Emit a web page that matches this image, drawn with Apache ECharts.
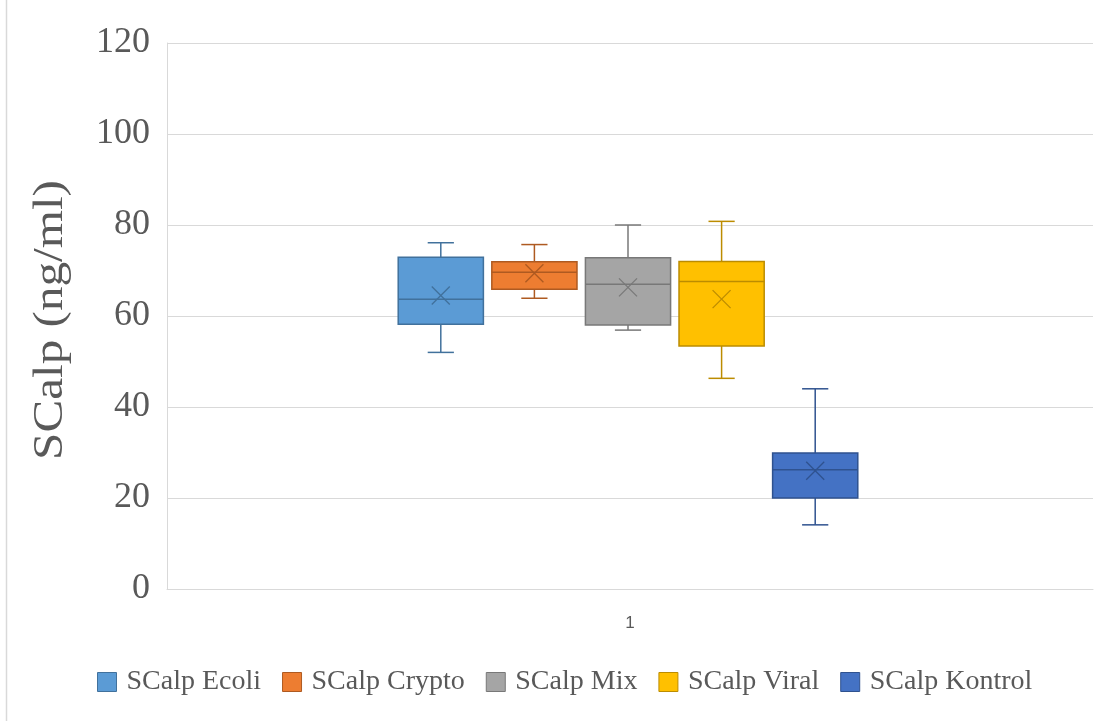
<!DOCTYPE html>
<html>
<head>
<meta charset="utf-8">
<script src="https://cdn.jsdelivr.net/npm/echarts@6/dist/echarts.min.js"></script>
<style>
  html, body { margin: 0; padding: 0; background: #ffffff; }
  #chart { width: 1096px; height: 721px; }
</style>
</head>
<body>
<div id="chart"></div>
<script>
// Group names shown in the legend
const seriesNames = ['SCalp Ecoli', 'SCalp Crypto', 'SCalp Mix', 'SCalp Viral', 'SCalp Kontrol'];
// Single category on the shared x axis
const categories = ['1'];
// Box statistics per group: [min, Q1, median, Q3, max]
const boxStats = [
  [52.0, 58.2, 63.7, 72.9, 76.1],
  [63.9, 65.9, 69.6, 71.9, 75.7],
  [56.9, 58.0, 67.0, 72.8, 80.0],
  [46.3, 53.4, 67.6, 72.0, 80.8],
  [14.1, 20.0, 26.2, 29.9, 44.0]
];
// Mean per group (drawn as an X marker)
const means = [64.5, 69.4, 66.3, 63.7, 26.0];
// Y axis scale and title
const yTicks = { min: 0, max: 120, interval: 20 };
const yTitle = 'SCalp (ng/ml)';

const fills   = ['#5B9BD5', '#ED7D31', '#A5A5A5', '#FFC000', '#4472C4'];
const strokes = ['#41719C', '#AE5A21', '#787878', '#BC8C00', '#2F528F'];
const textColor = '#595959';
const gridColor = '#d9d9d9';
const serif = '"Liberation Serif", "Times New Roman", serif';

function renderBox(params, api) {
  const idx = params.seriesIndex;
  const cat = api.value(0);
  const band = api.size([1, 0])[0];
  const boxW = band * 0.91;
  const capW = band * 0.28;
  const pMin = api.coord([cat, api.value(1)]);
  const pQ1  = api.coord([cat, api.value(2)]);
  const pMed = api.coord([cat, api.value(3)]);
  const pQ3  = api.coord([cat, api.value(4)]);
  const pMax = api.coord([cat, api.value(5)]);
  const pMean = api.coord([cat, api.value(6)]);
  const cx = pMed[0];
  const lineStyle = { stroke: strokes[idx], lineWidth: 1.5 };
  const xs = 9;
  return {
    type: 'group',
    children: [
      { type: 'line', shape: { x1: cx, y1: pMax[1], x2: cx, y2: pQ3[1] }, style: lineStyle },
      { type: 'line', shape: { x1: cx, y1: pQ1[1], x2: cx, y2: pMin[1] }, style: lineStyle },
      { type: 'line', shape: { x1: cx - capW / 2, y1: pMax[1], x2: cx + capW / 2, y2: pMax[1] }, style: lineStyle },
      { type: 'line', shape: { x1: cx - capW / 2, y1: pMin[1], x2: cx + capW / 2, y2: pMin[1] }, style: lineStyle },
      { type: 'rect', shape: { x: cx - boxW / 2, y: pQ3[1], width: boxW, height: pQ1[1] - pQ3[1] },
        style: { fill: fills[idx], stroke: strokes[idx], lineWidth: 1.5 } },
      { type: 'line', shape: { x1: cx - boxW / 2, y1: pMed[1], x2: cx + boxW / 2, y2: pMed[1] }, style: lineStyle },
      { type: 'line', shape: { x1: cx - xs, y1: pMean[1] - xs, x2: cx + xs, y2: pMean[1] + xs },
        style: { stroke: strokes[idx], lineWidth: 1.3 } },
      { type: 'line', shape: { x1: cx - xs, y1: pMean[1] + xs, x2: cx + xs, y2: pMean[1] - xs },
        style: { stroke: strokes[idx], lineWidth: 1.3 } }
    ]
  };
}

const chart = echarts.init(document.getElementById('chart'), null, { renderer: 'canvas' });

chart.setOption({
  backgroundColor: '#ffffff',
  animation: false,
  graphic: [
    {
      // thin frame line on the left edge
      type: 'line', silent: true,
      shape: { x1: 6.5, y1: 0, x2: 6.5, y2: 721 },
      style: { stroke: gridColor, lineWidth: 1.5 }
    },
    {
      // y axis title, set in a tall serif face
      type: 'text', silent: true,
      x: 51, y: 320, rotation: Math.PI / 2, scaleX: 1.17,
      style: {
        text: yTitle, fill: textColor,
        font: '42px ' + serif,
        textAlign: 'center', textVerticalAlign: 'middle'
      }
    }
  ],
  grid: [
    { left: 167, right: 3, top: 43, bottom: 132, outerBoundsMode: 'none', containLabel: false },
    { left: 394, width: 468, top: 43, bottom: 132, outerBoundsMode: 'none', containLabel: false }
  ],
  xAxis: [
    {
      gridIndex: 0, type: 'category', data: categories,
      axisLine: { lineStyle: { color: gridColor, width: 1 } },
      axisTick: { show: false },
      axisLabel: { color: textColor, fontFamily: 'Arial, "Liberation Sans", sans-serif', fontSize: 17, margin: 26 }
    },
    {
      gridIndex: 1, type: 'category', data: seriesNames, show: false
    }
  ],
  yAxis: [
    {
      gridIndex: 0, type: 'value', min: yTicks.min, max: yTicks.max, interval: yTicks.interval,
      axisLine: { show: true, lineStyle: { color: gridColor, width: 1 } },
      axisTick: { show: false },
      splitLine: { lineStyle: { color: gridColor, width: 1 } },
      axisLabel: { color: textColor, fontFamily: serif, fontSize: 36, margin: 17 }
    },
    {
      gridIndex: 1, type: 'value', min: yTicks.min, max: yTicks.max, interval: yTicks.interval, show: false
    }
  ],
  legend: {
    left: 97, top: 668, padding: 0,
    icon: 'rect', itemWidth: 19, itemHeight: 19, itemGap: 21,
    textStyle: { color: textColor, fontFamily: serif, fontSize: 28, padding: [0, 0, 0, 5] },
    data: seriesNames.map((n, i) => ({
      name: n,
      itemStyle: { color: fills[i], borderColor: strokes[i], borderWidth: 1 }
    }))
  },
  series: seriesNames.map((n, i) => ({
    name: n,
    type: 'custom',
    xAxisIndex: 1, yAxisIndex: 1,
    itemStyle: { color: fills[i], borderColor: strokes[i] },
    encode: { x: 0, y: [1, 2, 3, 4, 5, 6] },
    renderItem: renderBox,
    data: [[seriesNames[i]].concat(boxStats[i], [means[i]])]
  }))
});
</script>
</body>
</html>
